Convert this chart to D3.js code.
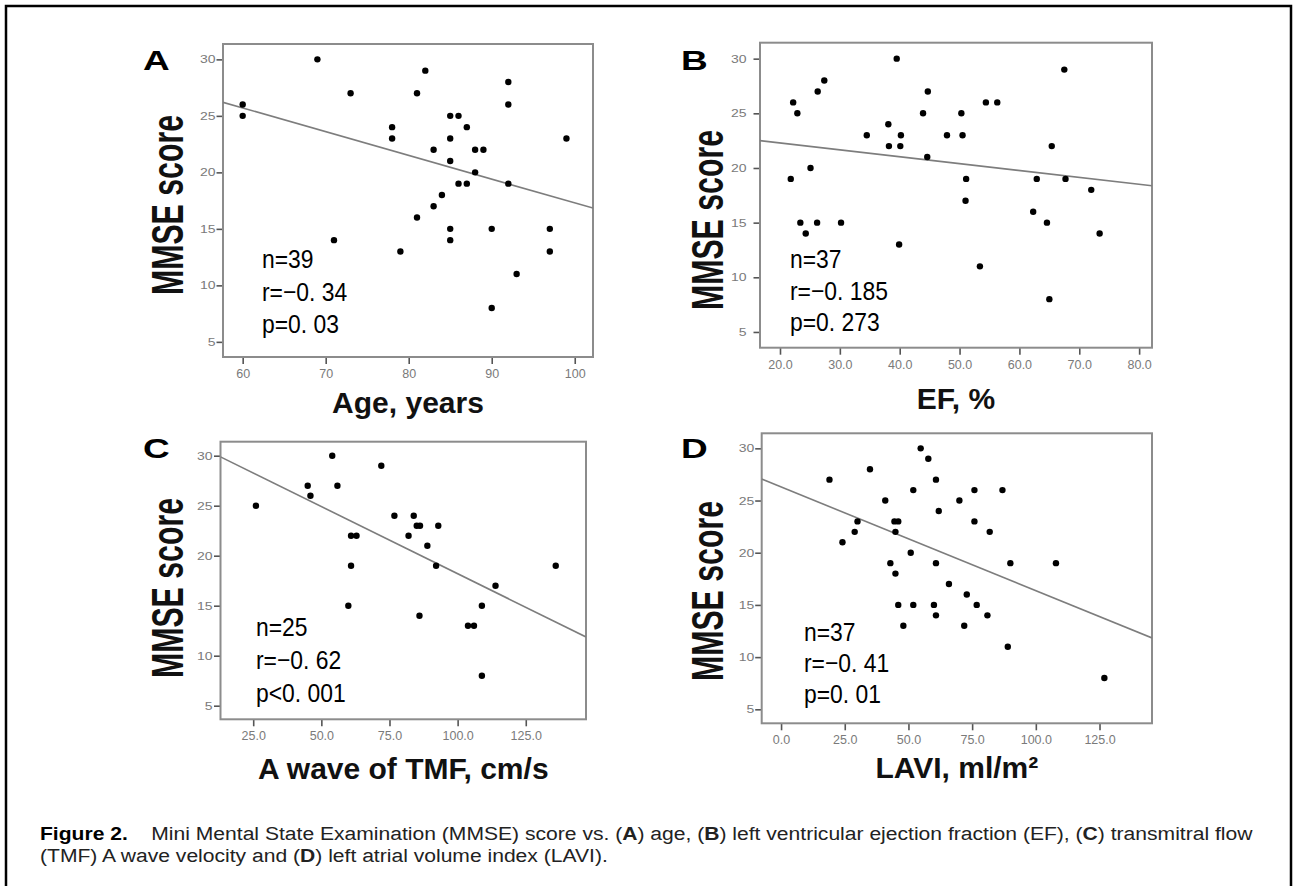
<!DOCTYPE html>
<html>
<head>
<meta charset="utf-8">
<script src="https://cdn.jsdelivr.net/npm/d3@7"></script>
<style>
  body { margin: 0; background: #fff; }
  svg { display: block; }
</style>
</head>
<body>
<div id="chart"></div>
<script>
// Panel A: age vs MMSE
const ageX = [60, 60, 69, 73, 71, 78, 78, 79, 81, 81, 82, 83, 83, 84, 85, 86, 85, 85, 85, 85, 87, 86, 87, 88, 89, 88, 90, 90, 92, 92, 92, 93, 97, 97, 99];
const ageY = [26, 25, 30, 27, 14, 24, 23, 13, 27, 16, 29, 22, 17, 18, 25, 25, 23, 21, 15, 14, 24, 19, 19, 22, 22, 20, 15, 8, 28, 26, 19, 11, 15, 13, 23];

// Panel B: EF vs MMSE
const efX = [21.8, 22.2, 22.9, 23.4, 24.3, 25.1, 26.2, 26.3, 27.4, 30.2, 34.5, 38.1, 38.2, 39.5, 39.9, 40.1, 40.2, 43.9, 44.6, 44.7, 47.9, 50.3, 50.5, 51.1, 51.0, 53.4, 54.4, 56.3, 62.3, 62.9, 64.6, 65.0, 65.4, 67.5, 67.7, 72.0, 73.4];
const efY = [19, 26, 25, 15, 14, 20, 15, 27, 28, 15, 23, 24, 22, 30, 13, 22, 23, 25, 21, 27, 23, 25, 23, 19, 17, 11, 26, 26, 16, 19, 15, 8, 22, 29, 19, 18, 14];

// Panel C: A wave of TMF vs MMSE
const tmfX = [26.0, 45.0, 46.0, 54.0, 55.9, 60.9, 62.9, 60.9, 59.9, 72.0, 76.8, 83.9, 82.0, 85.0, 86.2, 92.9, 88.9, 92.1, 86.0, 113.9, 108.9, 103.8, 106.0, 108.9, 136.0];
const tmfY = [25, 27, 26, 30, 27, 22, 22, 19, 15, 29, 24, 24, 22, 23, 23, 23, 21, 19, 14, 17, 15, 13, 13, 8, 19];

// Panel D: LAVI vs MMSE
const laviX = [19.0, 24.1, 28.9, 30.0, 34.9, 40.9, 42.9, 44.9, 44.9, 44.5, 46.0, 46.0, 48.0, 50.9, 51.9, 51.9, 54.8, 57.8, 60.0, 60.8, 60.8, 60.8, 61.9, 65.9, 70.0, 71.9, 72.9, 75.9, 75.9, 76.8, 81.0, 81.9, 86.9, 89.0, 90.0, 107.9, 126.9];
const laviY = [27, 21, 22, 23, 28, 25, 19, 18, 22, 23, 23, 15, 13, 20, 15, 26, 30, 29, 15, 14, 19, 27, 24, 17, 25, 13, 16, 26, 23, 15, 14, 22, 26, 11, 19, 19, 8];

// tick values
const yTicks = [5, 10, 15, 20, 25, 30];
const ageTicks = [60, 70, 80, 90, 100];
const efTicks = [20, 30, 40, 50, 60, 70, 80];
const tmfTicks = [25, 50, 75, 100, 125];
const laviTicks = [0, 25, 50, 75, 100, 125];

// fitted regression lines: [intercept, slope]
const ageFit = [38.3, -0.21];
const efFit = [23.55, -0.063];
const tmfFit = [31.63, -0.1343];
const laviFit = [26.3, -0.0993];

// text
const ageStats = ["n=39", "r=\u22120. 34", "p=0. 03"];
const efStats = ["n=37", "r=\u22120. 185", "p=0. 273"];
const tmfStats = ["n=25", "r=\u22120. 62", "p<0. 001"];
const laviStats = ["n=37", "r=\u22120. 41", "p=0. 01"];
const panelLetters = ["A", "B", "C", "D"];
const xTitles = ["Age, years", "EF, %", "A wave of TMF, cm/s", "LAVI, ml/m\u00b2"];
const yTitle = "MMSE score";

const W = 1297, H = 886;

const svg = d3.select("#chart")
    .append("svg")
    .attr("width", W)
    .attr("height", H);

svg.append("rect").attr("width", W).attr("height", H).attr("fill", "#fff");

// outer frame of the figure
svg.append("rect")
    .attr("x", 6).attr("y", 6)
    .attr("width", 1285).attr("height", 910)
    .attr("fill", "none")
    .attr("stroke", "#000")
    .attr("stroke-width", 2.5);

// layout for each panel (pixel frame + axis domains)
const panels = [
    { xs: ageX, ys: ageY, ticks: ageTicks, fit: ageFit, stats: ageStats, fmt: d3.format("d"),
      left: 223, right: 593, top: 44, bottom: 357, xDom: [57.63, 102.2], yDom: [3.66, 31.36],
      yPad: 1, letter: [143, 70], ylab: [183, 205], statX: 262, statY: [268, 300.5, 333], titleY: 413 },
    { xs: efX, ys: efY, ticks: efTicks, fit: efFit, stats: efStats, fmt: d3.format(".1f"),
      left: 760, right: 1152, top: 42.7, bottom: 347.7, xDom: [16.66, 82.15], yDom: [3.56, 31.46],
      yPad: 7, letter: [681, 70], ylab: [723, 220], statX: 790, statY: [268, 300, 331], titleY: 409 },
    { xs: tmfX, ys: tmfY, ticks: tmfTicks, fit: tmfFit, stats: tmfStats, fmt: d3.format(".1f"),
      left: 220.5, right: 586, top: 441.7, bottom: 719.3, xDom: [13.0, 147.1], yDom: [3.64, 31.4],
      yPad: 1.5, letter: [143, 458], ylab: [183, 588], statX: 256, statY: [636, 669, 702], titleY: 779 },
    { xs: laviX, ys: laviY, ticks: laviTicks, fit: laviFit, stats: laviStats, fmt: d3.format(".1f"),
      left: 761.7, right: 1152, top: 433.3, bottom: 723.3, xDom: [-7.6, 145.6], yDom: [3.66, 31.44],
      yPad: 1, letter: [681, 458], ylab: [723, 591], statX: 804, statY: [641, 672, 703], titleY: 778 }
];

panels.forEach((p, k) => {
    const g = svg.append("g");
    const x = d3.scaleLinear().domain(p.xDom).range([p.left, p.right]);
    const y = d3.scaleLinear().domain(p.yDom).range([p.bottom, p.top]);

    // clip for the fitted line
    const clipId = "clip" + k;
    svg.append("clipPath").attr("id", clipId)
        .append("rect")
        .attr("x", p.left).attr("y", p.top)
        .attr("width", p.right - p.left).attr("height", p.bottom - p.top);

    // x axis
    const xAxis = g.append("g")
        .attr("transform", `translate(0,${p.bottom})`)
        .call(d3.axisBottom(x).tickValues(p.ticks).tickFormat(p.fmt).tickSize(7).tickPadding(5));
    xAxis.select(".domain").remove();
    xAxis.selectAll(".tick line").attr("stroke", "#555").attr("stroke-width", 1.6);
    xAxis.selectAll(".tick text")
        .attr("fill", "#7a7a7a")
        .style("font-family", "'Liberation Sans', Arial, sans-serif")
        .style("font-size", "12.5px");

    // y axis
    const yAxis = g.append("g")
        .attr("transform", `translate(${p.left},0)`)
        .call(d3.axisLeft(y).tickValues(yTicks).tickSize(6.5).tickPadding(p.yPad));
    yAxis.select(".domain").remove();
    yAxis.selectAll(".tick line").attr("stroke", "#555").attr("stroke-width", 1.6);
    yAxis.selectAll(".tick text")
        .attr("fill", "#7a7a7a")
        .attr("transform", "scale(1,0.8)")
        .style("font-family", "'Liberation Sans', Arial, sans-serif")
        .style("font-size", "14px");

    // plot frame
    g.append("rect")
        .attr("x", p.left).attr("y", p.top)
        .attr("width", p.right - p.left).attr("height", p.bottom - p.top)
        .attr("fill", "none")
        .attr("stroke", "#8c8c8c")
        .attr("stroke-width", 2);

    // fitted line
    const line = d3.line().x(d => x(d)).y(d => y(p.fit[0] + p.fit[1] * d));
    g.append("path")
        .datum(p.xDom)
        .attr("d", line)
        .attr("clip-path", `url(#${clipId})`)
        .attr("fill", "none")
        .attr("stroke", "#7d7d7d")
        .attr("stroke-width", 1.6);

    // points
    g.selectAll(".dot")
        .data(p.xs.map((v, i) => [v, p.ys[i]]))
        .enter()
        .append("circle")
        .attr("cx", d => x(d[0]))
        .attr("cy", d => y(d[1]))
        .attr("r", 3.2)
        .attr("fill", "#000");

    // statistics text
    g.selectAll(".stat")
        .data(p.stats)
        .enter()
        .append("text")
        .attr("transform", (d, i) => `translate(${p.statX},${p.statY[i]}) scale(0.88,1)`)
        .text(d => d)
        .attr("fill", "#000")
        .style("font-family", "'Liberation Sans', Arial, sans-serif")
        .style("font-size", "26px");

    // x title
    g.append("text")
        .attr("x", (p.left + p.right) / 2)
        .attr("y", p.titleY)
        .attr("text-anchor", "middle")
        .text(xTitles[k])
        .attr("fill", "#111")
        .style("font-family", "'Liberation Sans', Arial, sans-serif")
        .style("font-weight", "bold")
        .style("font-size", "30px");

    // y title (condensed along its direction)
    g.append("text")
        .attr("transform", `translate(${p.ylab[0]},${p.ylab[1]}) rotate(-90)`)
        .attr("text-anchor", "middle")
        .attr("textLength", 180)
        .attr("lengthAdjust", "spacingAndGlyphs")
        .text(yTitle)
        .attr("fill", "#111")
        .style("font-family", "'Liberation Sans', Arial, sans-serif")
        .style("font-weight", "bold")
        .style("font-size", "44px");

    // panel letter
    g.append("text")
        .attr("transform", `translate(${p.letter[0]},${p.letter[1]}) scale(1,0.74)`)
        .text(panelLetters[k])
        .attr("fill", "#000")
        .style("font-family", "'Liberation Sans', Arial, sans-serif")
        .style("font-weight", "bold")
        .style("font-size", "37px");
});

// caption
const cap = svg.append("g")
    .style("font-family", "'Liberation Sans', Arial, sans-serif")
    .style("font-size", "19px")
    .attr("fill", "#222");

const line1 = cap.append("text").attr("x", 40).attr("y", 840);
line1.append("tspan").text("Figure 2.").style("font-weight", "bold").attr("fill", "#000");
line1.append("tspan").text("\u00a0\u00a0\u00a0 Mini Mental State Examination (MMSE) score vs. (");
line1.append("tspan").text("A").style("font-weight", "bold");
line1.append("tspan").text(") age, (");
line1.append("tspan").text("B").style("font-weight", "bold");
line1.append("tspan").text(") left ventricular ejection fraction (EF), (");
line1.append("tspan").text("C").style("font-weight", "bold");
line1.append("tspan").text(") transmitral flow");

const line2 = cap.append("text").attr("x", 40).attr("y", 862);
line2.append("tspan").text("(TMF) A wave velocity and (");
line2.append("tspan").text("D").style("font-weight", "bold");
line2.append("tspan").text(") left atrial volume index (LAVI).");

// stretch the caption so the first line runs almost to the right border
const sx = 1213 / line1.node().getComputedTextLength();
cap.attr("transform", `translate(40,0) scale(${sx},1) translate(-40,0)`);
</script>
</body>
</html>
